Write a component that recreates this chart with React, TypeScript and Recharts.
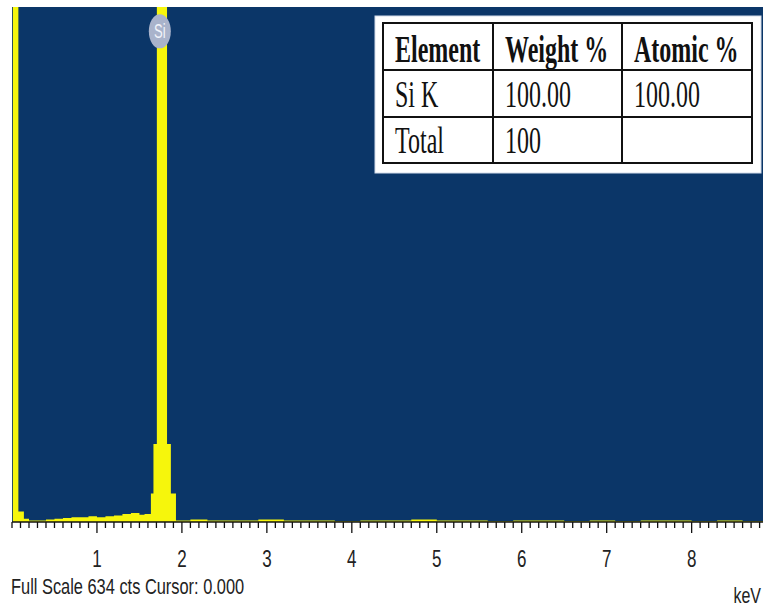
import React from 'react';
import { AreaChart, Area, XAxis, YAxis, CartesianGrid, ReferenceDot } from 'recharts';

// EDS spectrum (keV, counts; step plot, value holds until next energy)
const energy = [
  0, 0.01, 0.075, 0.14, 0.2, 0.3, 0.4, 0.5, 0.6, 0.7, 0.8, 0.9, 1.0, 1.1, 1.2, 1.3, 1.4, 1.5, 1.56,
  1.635, 1.665, 1.705, 1.825, 1.87, 1.93, 2.1, 2.3, 2.6, 2.9, 3.2, 3.5, 3.8, 4.1, 4.4,
  4.7, 5.0, 5.3, 5.6, 5.9, 6.2, 6.5, 6.8, 7.1, 7.4, 7.7, 8.0, 8.3, 8.6, 8.84,
];
const counts = [
  0, 700, 13, 4, 2, 2, 3, 4, 5, 6, 6, 7, 6, 7, 8, 10, 11, 9, 10,
  35, 96, 634, 96, 35, 2, 3, 2, 2, 3, 2, 2, 1, 2, 2,
  3, 2, 2, 1, 2, 2, 1, 2, 1, 2, 2, 1, 2, 1, 1,
];

const fullScale = 634;
const maxEnergy = 8.84;
const siPeakEnergy = 1.74;
const tickLabels = [1, 2, 3, 4, 5, 6, 7, 8];
const minorTicks = Array.from({ length: 89 }, (_, i) => i / 10);

const tableHeader = ['Element', 'Weight %', 'Atomic %'];
const tableRows = [
  ['Si K', '100.00', '100.00'],
  ['Total', '100', ''],
];

const data = energy.map((e, i) => ({ e, c: counts[i] }));

const W = 763;
const H = 609;
const AXIS_Y = 522;
const BLUE = '#0b3668';
const YELLOW = '#f6f60c';
const SANS = '"Liberation Sans", Arial, sans-serif';
const SERIF = '"Liberation Serif", "Times New Roman", serif';

const Tick = (props: any) => {
  const { x, payload } = props;
  const v = payload.value as number;
  const major = tickLabels.includes(v);
  return (
    <g>
      <line x1={x} x2={x} y1={AXIS_Y} y2={AXIS_Y + (major ? 11 : 6)} stroke="#111" strokeWidth={1.3} />
      {major && (
        <text
          transform={`translate(${x},567) scale(1,1.45)`}
          textAnchor="middle"
          fontFamily={SANS}
          fontSize={17}
          fill="#222"
        >
          {v}
        </text>
      )}
    </g>
  );
};

const SiLabel = (props: any) => {
  const { cx, cy } = props;
  return (
    <g>
      <ellipse cx={cx} cy={cy} rx={11} ry={17} fill="#a9b3cb" />
      <text
        transform={`translate(${cx},${cy + 7}) scale(1,1.6)`}
        textAnchor="middle"
        fontFamily={SANS}
        fontSize={13}
        fill="#f2f4fa"
      >
        Si
      </text>
    </g>
  );
};

const colX = [383, 493, 622, 752];
const rowY = [23, 70, 117, 163];
const baselines = [62, 107, 153];

const Overlay = () => (
  <svg width={W} height={H} style={{ position: 'absolute', left: 0, top: 0, pointerEvents: 'none' }}>
    <rect x={375} y={16} width={386} height={157} fill="#fff" stroke="#d3dcea" strokeWidth={1} />
    <rect x={colX[0]} y={rowY[0]} width={colX[3] - colX[0]} height={rowY[3] - rowY[0]} fill="none" stroke="#111" strokeWidth={2} />
    {rowY.slice(1, 3).map((y) => (
      <line key={y} x1={colX[0]} x2={colX[3]} y1={y} y2={y} stroke="#111" strokeWidth={2} />
    ))}
    {colX.slice(1, 3).map((x) => (
      <line key={x} x1={x} x2={x} y1={rowY[0]} y2={rowY[3]} stroke="#111" strokeWidth={2} />
    ))}
    {tableHeader.map((t, i) => (
      <text
        key={t}
        transform={`translate(${colX[i] + 12},${baselines[0]}) scale(1,1.55)`}
        fontFamily={SERIF}
        fontWeight="bold"
        fontSize={24}
        fill="#111"
      >
        {t}
      </text>
    ))}
    {tableRows.map((row, r) =>
      row.map((t, i) => (
        <text
          key={`${r}-${i}`}
          transform={`translate(${colX[i] + 12},${baselines[r + 1]}) scale(1,1.55)`}
          fontFamily={SERIF}
          fontSize={24}
          fill="#111"
        >
          {t}
        </text>
      ))
    )}
    <text transform="translate(11,594) scale(1,1.4)" fontFamily={SANS} fontSize={16.4} fill="#222">
      Full Scale {fullScale} cts Cursor: 0.000
    </text>
    <text transform="translate(761,603) scale(1,1.4)" textAnchor="end" fontFamily={SANS} fontSize={16} fill="#222">
      keV
    </text>
  </svg>
);

export default function App() {
  return (
    <div style={{ position: 'absolute', left: 0, top: 0, width: W, height: H, background: '#fff' }}>
      <AreaChart width={W} height={H} data={data} margin={{ top: 7, right: 0, bottom: 0, left: 12 }}>
        <CartesianGrid fill={BLUE} stroke="none" horizontal={false} vertical={false} />
        <XAxis
          dataKey="e"
          type="number"
          domain={[0, maxEnergy]}
          ticks={minorTicks}
          interval={0}
          height={H - AXIS_Y}
          axisLine={{ stroke: '#111', strokeWidth: 1.5 }}
          tickLine={false}
          tick={Tick}
        />
        <YAxis hide domain={[0, fullScale]} allowDataOverflow />
        <Area
          type="stepAfter"
          dataKey="c"
          fill={YELLOW}
          fillOpacity={1}
          stroke="none"
          isAnimationActive={false}
        />
        <ReferenceDot x={siPeakEnergy} y={604} r={1} shape={SiLabel} />
      </AreaChart>
      <Overlay />
    </div>
  );
}
